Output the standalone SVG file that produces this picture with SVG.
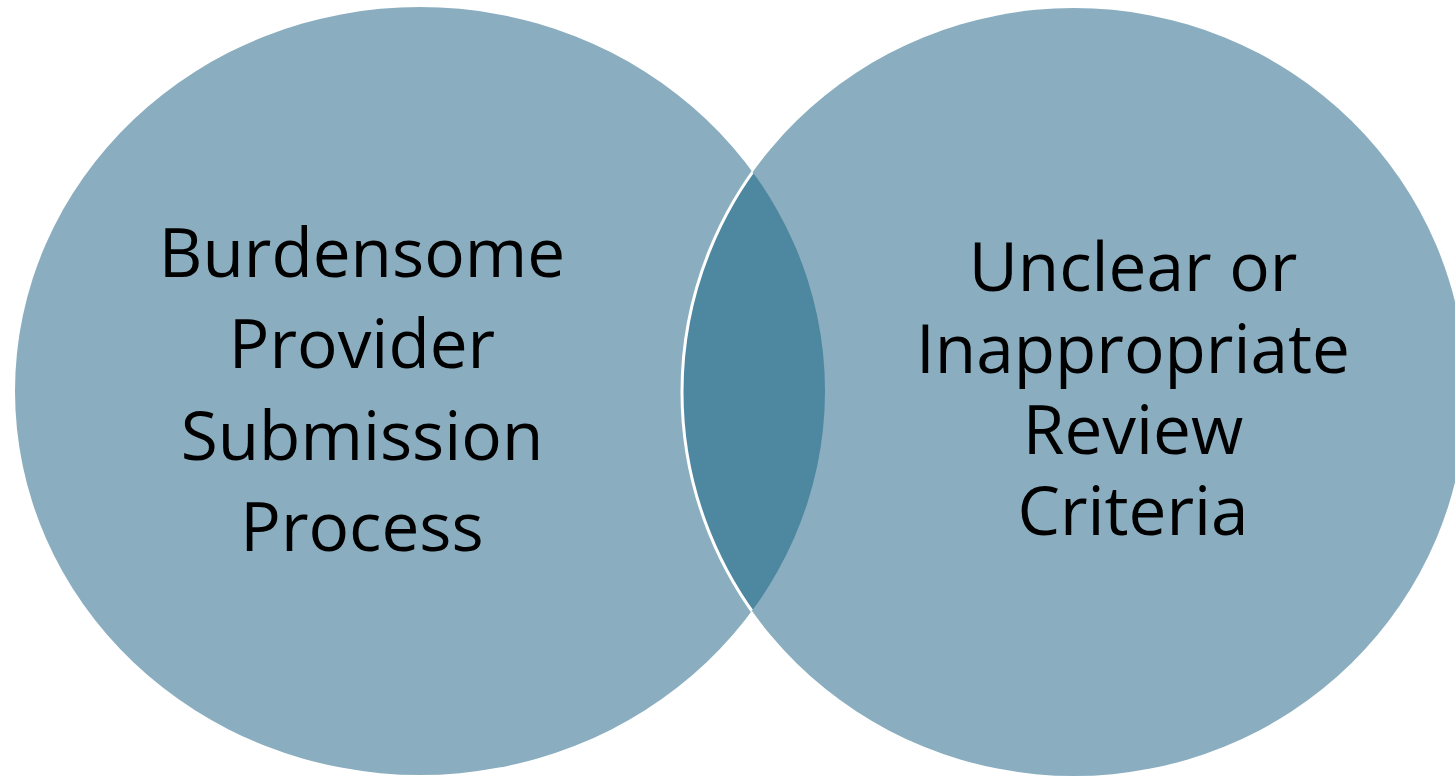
<svg xmlns="http://www.w3.org/2000/svg" width="1455" height="776" viewBox="0 0 1455 776">
<style>
.c{fill:#8AAEC0}
.lens{fill:#4E87A0}
.t{font-family:"Open Sans","Liberation Sans",Arial,sans-serif;font-size:67.5px;fill:#000;text-anchor:middle}
</style>
<defs>
<clipPath id="clipL"><ellipse cx="420" cy="391" rx="405" ry="384"/></clipPath>
</defs>
<rect width="1455" height="776" fill="#fff"/>
<g id="node-left">
<ellipse class="c" cx="420" cy="391" rx="405" ry="384"/>
</g>
<g id="node-right">
<ellipse class="c" cx="1074" cy="392" rx="392" ry="384"/>
</g>
<g id="node-overlap">
<ellipse class="lens" cx="1074" cy="392" rx="392" ry="384" clip-path="url(#clipL)"/>
<ellipse cx="1074" cy="392" rx="392" ry="384" fill="none" stroke="#fff" stroke-width="3" clip-path="url(#clipL)"/>
</g>
<g id="labels">
<text class="t" x="362" y="277">Burdensome</text>
<text class="t" x="362" y="368">Provider</text>
<text class="t" x="362" y="460">Submission</text>
<text class="t" x="362" y="551">Process</text>
<text class="t" x="1133" y="291">Unclear or</text>
<text class="t" x="1133" y="373">Inappropriate</text>
<text class="t" x="1133" y="454">Review</text>
<text class="t" x="1133" y="535">Criteria</text>
</g>
<g id="connectors"/>
</svg>
